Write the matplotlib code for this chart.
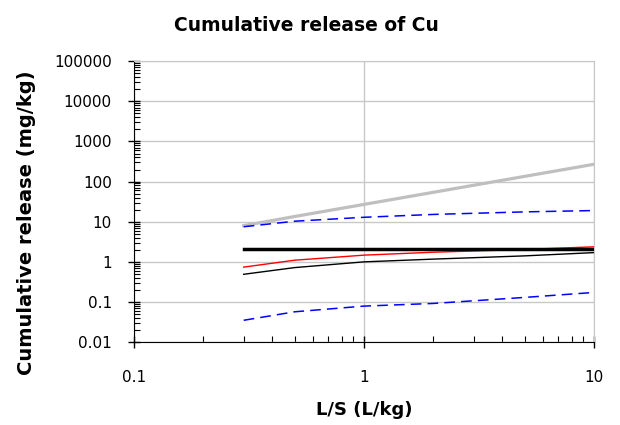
import matplotlib.pyplot as plt
from matplotlib.ticker import LogLocator, FixedLocator, NullFormatter

# L/S values (L/kg)
ls = [0.3, 0.5, 1, 2, 5, 10]

# cumulative release of Cu (mg/kg)
limit_grey = [8, 13.5, 27, 54, 135, 270]
limit_black = [2.05, 2.05, 2.05, 2.05, 2.05, 2.05]
upper_blue = [7.5, 10.3, 12.9, 15.2, 17.6, 19]
red_line = [0.74, 1.1, 1.47, 1.74, 2.04, 2.37]
black_line = [0.49, 0.72, 1.0, 1.17, 1.41, 1.7]
lower_blue = [0.035, 0.057, 0.079, 0.092, 0.13, 0.173]

xticks = [0.1, 1, 10]
xticklabels = ["0.1", "1", "10"]
yticks = [0.01, 0.1, 1, 10, 100, 1000, 10000, 100000]
yticklabels = ["0.01", "0.1", "1", "10", "100", "1000", "10000", "100000"]

fig = plt.figure(figsize=(6.2, 4.25), dpi=100)
ax = fig.add_axes([0.216, 0.195, 0.742, 0.661])

ax.plot(ls, limit_grey, color="#bfbfbf", lw=2.3)
ax.plot(ls, upper_blue, color="#0000ff", lw=1.1, dashes=(7, 4))
ax.plot(ls, lower_blue, color="#0000ff", lw=1.1, dashes=(7, 4))
ax.plot(ls, red_line, color="#ff0000", lw=1.0)
ax.plot(ls, black_line, color="black", lw=1.0)
ax.plot(ls, limit_black, color="black", lw=2.5)

ax.set_xscale("log")
ax.set_yscale("log")
ax.set_xlim(0.1, 10)
ax.set_ylim(0.01, 100000)

ax.xaxis.set_major_locator(FixedLocator(xticks))
ax.set_xticklabels(xticklabels)
ax.yaxis.set_major_locator(FixedLocator(yticks))
ax.set_yticklabels(yticklabels)
ax.xaxis.set_minor_locator(LogLocator(base=10, subs=range(2, 10)))
ax.yaxis.set_minor_locator(LogLocator(base=10, subs=range(2, 10), numticks=20))
ax.xaxis.set_minor_formatter(NullFormatter())
ax.yaxis.set_minor_formatter(NullFormatter())

ax.grid(True, which="major", color="#c8c8c8", lw=1.0)
ax.set_axisbelow(True)
for s in ["top", "right"]:
    ax.spines[s].set_color("#c8c8c8")
ax.tick_params(axis="x", which="major", direction="inout", length=8, width=1,
               labelsize=11, pad=16)
ax.tick_params(axis="y", which="major", direction="inout", length=8, width=1,
               labelsize=11, pad=12)
ax.tick_params(axis="both", which="minor", direction="in", length=4, width=0.8)

fig.text(0.494, 0.941, "Cumulative release of Cu", fontsize=13.5,
         fontweight="bold", ha="center", va="center")
ax.set_xlabel("L/S (L/kg)", fontsize=13, fontweight="bold")
ax.xaxis.set_label_coords(0.5, -0.21)
ax.set_ylabel("Cumulative release (mg/kg)", fontsize=14, fontweight="bold")
ax.yaxis.set_label_coords(-0.212, 0.424)

plt.savefig("out.png", dpi=100)
plt.close(fig)
